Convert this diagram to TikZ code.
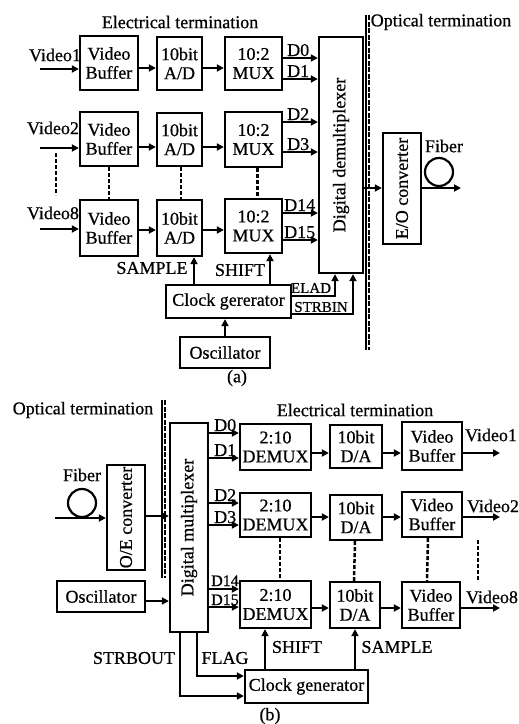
\documentclass[tikz,border=0pt]{standalone}
\usepackage{fontspec}
\setmainfont{Liberation Serif}[FakeBold=0.6]
\usetikzlibrary{arrows.meta,calc}
\begin{document}
\begin{tikzpicture}[x=1pt,y=-1pt,
 box/.style={draw, line width=2.3pt, inner sep=0pt, align=center, font=\fontsize{18}{19}\selectfont},
 wh/.style 2 args={minimum width=#1pt, minimum height=#2pt},
 lbl/.style={inner sep=0pt, font=\fontsize{18}{18}\selectfont},
 slbl/.style={inner sep=0pt, font=\fontsize{15}{15}\selectfont},
 dlbl/.style={inner sep=0pt, font=\fontsize{16}{16}\selectfont},
 rlbl/.style={inner sep=0pt, rotate=90, font=\fontsize{18}{18}\selectfont},
 arr/.style={line width=2.2pt, -{Triangle[length=7pt,width=7pt]}},
 ln/.style={line width=2.2pt},
 dsh/.style={line width=2.5pt, dash pattern=on 4pt off 2pt},
 loopc/.style={circle, draw, line width=2.2pt, minimum size=28pt, inner sep=0pt},
]
\useasboundingbox[fill=white] (0,0) rectangle (519,724);

% ================= (a) =================
\node[lbl] (eta) at (180,22) {Electrical termination};
\node[lbl] (ota) at (441,22) {Optical termination};
\draw[line width=1.5pt] (366,15) -- (366,350);
\draw[line width=2pt, dash pattern=on 5pt off 1.5pt] (368.5,15) -- (368.5,350);

\node[box, wh={58}{54}] (vb1) at (109,63) {Video\\Buffer};
\node[box, wh={45}{53}] (ad1) at (179.5,63.5) {10bit\\A/D};
\node[box, wh={57}{53}] (mx1) at (253.5,63.5) {10:2\\MUX};
\node[box, wh={58}{54}] (vb2) at (109,139) {Video\\Buffer};
\node[box, wh={45}{53}] (ad2) at (179.5,139.5) {10bit\\A/D};
\node[box, wh={57}{55}] (mx2) at (253.5,139.5) {10:2\\MUX};
\node[box, wh={58}{56}] (vb3) at (109,228) {Video\\Buffer};
\node[box, wh={45}{56}] (ad3) at (179.5,228) {10bit\\A/D};
\node[box, wh={57}{54}] (mx3) at (253.5,226) {10:2\\MUX};

\node[box, wh={44}{236}] (dmx) at (341,155) {};
\node[rlbl] (dmxt) at (dmx.center) {Digital demultiplexer};
\node[box, wh={38}{111}] (eo) at (402,188.5) {};
\node[rlbl] (eot) at (eo.center) {E/O converter};
\node[box, wh={125}{33}] (clka) at (228.5,301.5) {Clock gererator};
\node[box, wh={90}{31}] (osca) at (225,352.5) {Oscillator};

\node[lbl] (v1l) at (55,55) {Video1};
\node[lbl] (v2l) at (53,128) {Video2};
\node[lbl] (v8l) at (53,213) {Video8};
\coordinate (v1in) at (40,69);
\coordinate (v2in) at (40,148);
\coordinate (v8in) at (40,229);
\draw[arr] (v1in) -- (vb1.west |- v1in);
\draw[arr] (v2in) -- (vb2.west |- v2in);
\draw[arr] (v8in) -- (vb3.west |- v8in);

\coordinate (ra1) at (0,68);
\coordinate (ra2) at (0,147);
\coordinate (ra3) at (0,230);
\draw[arr] (vb1.east |- ra1) -- (ad1.west |- ra1);
\draw[arr] (ad1.east |- ra1) -- (mx1.west |- ra1);
\draw[arr] (vb2.east |- ra2) -- (ad2.west |- ra2);
\draw[arr] (ad2.east |- ra2) -- (mx2.west |- ra2);
\draw[arr] (vb3.east |- ra3) -- (ad3.west |- ra3);
\draw[arr] (ad3.east |- ra3) -- (mx3.west |- ra3);

% D lines
\coordinate (da0) at (0,58);  \coordinate (da1) at (0,79);
\coordinate (da2) at (0,122); \coordinate (da3) at (0,152);
\coordinate (da14) at (0,213); \coordinate (da15) at (0,240);
\draw[arr] (mx1.east |- da0) -- (dmx.west |- da0);
\draw[arr] (mx1.east |- da1) -- (dmx.west |- da1);
\draw[arr] (mx2.east |- da2) -- (dmx.west |- da2);
\draw[arr] (mx2.east |- da3) -- (dmx.west |- da3);
\draw[arr] (mx3.east |- da14) -- (dmx.west |- da14);
\draw[arr] (mx3.east |- da15) -- (dmx.west |- da15);
\node[lbl, anchor=base west] (lda0) at (287,56) {D0};
\node[lbl, anchor=base west] (lda1) at (287,77) {D1};
\node[lbl, anchor=base west] (lda2) at (287,120) {D2};
\node[lbl, anchor=base west] (lda3) at (287,150) {D3};
\node[lbl, anchor=base west] (lda14) at (284,211) {D14};
\node[lbl, anchor=base west] (lda15) at (284,238) {D15};

% dashed continuation
\coordinate (ea1) at (56,153); \coordinate (ea2) at (56,195);
\draw[dsh] (ea1) -- (ea2);
\draw[dsh] (vb2.south) -- (vb3.north);
\draw[dsh] ([xshift=1.5pt]ad2.south) -- ([xshift=1.5pt]ad3.north);
\draw[dsh] ([xshift=4pt]mx2.south) -- ([xshift=4pt]mx3.north);

% E/O and fiber
\coordinate (dmxo) at (0,188);
\draw[arr] (dmx.east |- dmxo) -- (eo.west |- dmxo);
\coordinate (fa) at (461,188);
\draw[arr] (eo.east |- fa) -- (fa);
\node[loopc] (loopa) at (439,172) {};
\node[lbl] (fibla) at (444,146) {Fiber};

% clock (a)
\coordinate (sma) at (194,0);
\coordinate (sha) at (270,0);
\draw[arr] (clka.north -| sma) -- (ad3.south -| sma);
\draw[arr] (clka.north -| sha) -- (mx3.south -| sha);
\node[lbl] (samla) at (152,268) {SAMPLE};
\node[lbl] (shila) at (240,270) {SHIFT};
\draw[arr] (osca.north) -- (osca.north |- clka.south);
\coordinate (elad) at (335,296);
\coordinate (strb) at (353,314);
\draw[arr] (clka.east |- elad) -- (elad) -- (dmx.south -| elad);
\draw[arr] (clka.east |- strb) -- (strb) -- (dmx.south -| strb);
\node[slbl] (eladl) at (311,288) {ELAD};
\node[slbl] (strbl) at (321,307) {STRBIN};
\node[lbl] (capa) at (237,378) {(a)};

% ================= (b) =================
\node[lbl] (otb) at (83,410) {Optical termination};
\node[lbl] (etb) at (355,410) {Electrical termination};
\draw[line width=1.5pt] (162,400) -- (162,578);
\draw[line width=2pt, dash pattern=on 5pt off 1.5pt] (164.5,400) -- (164.5,578);

\node[box, wh={38}{209}] (mux) at (189,527.5) {};
\node[rlbl] (muxt) at (mux.center) {Digital multiplexer};
\node[box, wh={38}{105}] (oe) at (126,517.5) {};
\node[rlbl] (oet) at (oe.center) {O/E converter};
\node[box, wh={88}{31}] (oscb) at (101,596.5) {Oscillator};

\node[box, wh={71}{46}] (dm1) at (275.5,447) {2:10\\DEMUX};
\node[box, wh={52}{43}] (dac1) at (356,446.5) {10bit\\D/A};
\node[box, wh={60}{48}] (vbb1) at (432,446) {Video\\Buffer};
\node[box, wh={71}{44}] (dm2) at (275.5,515) {2:10\\DEMUX};
\node[box, wh={52}{45}] (dac2) at (356,517.5) {10bit\\D/A};
\node[box, wh={60}{45}] (vbb2) at (432,514.5) {Video\\Buffer};
\node[box, wh={71}{47}] (dm3) at (275.5,604.5) {2:10\\DEMUX};
\node[box, wh={50}{46}] (dac3) at (355,605) {10bit\\D/A};
\node[box, wh={58}{46}] (vbb3) at (431,605) {Video\\Buffer};
\node[box, wh={123}{33}] (clkb) at (306.5,686.5) {Clock generator};

% fiber (b)
\coordinate (fb) at (55,518);
\draw[arr] (fb) -- (oe.west |- fb);
\node[loopc] (loopb) at (82,503) {};
\node[lbl] (fiblb) at (82,475) {Fiber};
\coordinate (oeo) at (0,516);
\draw[arr] (oe.east |- oeo) -- (mux.west |- oeo);
\coordinate (osco) at (0,601);
\draw[arr] (oscb.east |- osco) -- (mux.west |- osco);

% D lines (b)
\coordinate (db0) at (0,433);  \coordinate (db1) at (0,458);
\coordinate (db2) at (0,503);  \coordinate (db3) at (0,525);
\coordinate (db14) at (0,589); \coordinate (db15) at (0,607);
\draw[arr] (mux.east |- db0) -- (dm1.west |- db0);
\draw[arr] (mux.east |- db1) -- (dm1.west |- db1);
\draw[arr] (mux.east |- db2) -- (dm2.west |- db2);
\draw[arr] (mux.east |- db3) -- (dm2.west |- db3);
\draw[arr] (mux.east |- db14) -- (dm3.west |- db14);
\draw[arr] (mux.east |- db15) -- (dm3.west |- db15);
\node[lbl, anchor=base west] (ldb0) at (214,431) {D0};
\node[lbl, anchor=base west] (ldb1) at (214,456) {D1};
\node[lbl, anchor=base west] (ldb2) at (214,501) {D2};
\node[lbl, anchor=base west] (ldb3) at (214,523) {D3};
\node[dlbl, anchor=base west] (ldb14) at (211,586) {D14};
\node[dlbl, anchor=base west] (ldb15) at (211,605) {D15};

% row arrows (b)
\coordinate (rb1) at (0,453);
\coordinate (rb2) at (0,517);
\coordinate (rb3) at (0,608);
\draw[arr] (dm1.east |- rb1) -- (dac1.west |- rb1);
\draw[arr] (dac1.east |- rb1) -- (vbb1.west |- rb1);
\draw[arr] (dm2.east |- rb2) -- (dac2.west |- rb2);
\draw[arr] (dac2.east |- rb2) -- (vbb2.west |- rb2);
\draw[arr] (dm3.east |- rb3) -- (dac3.west |- rb3);
\draw[arr] (dac3.east |- rb3) -- (vbb3.west |- rb3);
\coordinate (vo1) at (500,453);
\coordinate (vo2) at (500,517);
\coordinate (vo8) at (500,608);
\draw[arr] (vbb1.east |- vo1) -- (vo1);
\draw[arr] (vbb2.east |- vo2) -- (vo2);
\draw[arr] (vbb3.east |- vo8) -- (vo8);
\node[lbl] (vo1l) at (491,435) {Video1};
\node[lbl] (vo2l) at (493,506) {Video2};
\node[lbl] (vo8l) at (492,597) {Video8};

% dashed continuation (b)
\draw[dsh] ([xshift=4.5pt]dm2.south) -- ([xshift=4.5pt]dm3.north);
\draw[dsh] ([xshift=-1pt]dac2.south) -- ([xshift=-1pt]dac3.north);
\draw[dsh] ([xshift=-4pt]vbb2.south) -- ([xshift=-4pt]vbb3.north);
\coordinate (eb1) at (478,540); \coordinate (eb2) at (478,582);
\draw[dsh] (eb1) -- (eb2);

% clock (b)
\coordinate (shb) at (265,0);
\coordinate (smb) at (355,0);
\draw[arr] (clkb.north -| shb) -- (dm3.south -| shb);
\draw[arr] (clkb.north -| smb) -- (dac3.south -| smb);
\node[lbl] (shilb) at (297,647) {SHIFT};
\node[lbl] (samlb) at (397,647) {SAMPLE};
\coordinate (stbo) at (180,696);
\coordinate (flg) at (197,676);
\draw[arr] (mux.south -| stbo) -- (stbo) -- (clkb.west |- stbo);
\draw[arr] (mux.south -| flg) -- (flg) -- (clkb.west |- flg);
\node[lbl] (stbol) at (134,658) {STRBOUT};
\node[lbl] (flgl) at (225,658) {FLAG};
\node[lbl] (capb) at (270,716) {(b)};
\end{tikzpicture}
\end{document}
